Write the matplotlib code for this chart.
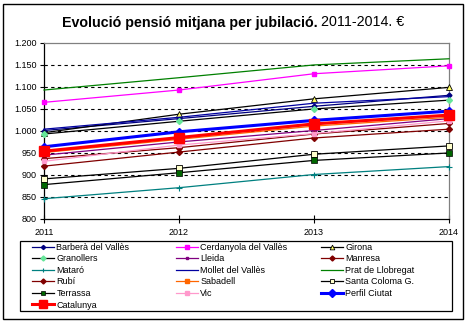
import matplotlib
matplotlib.use("Agg")
import matplotlib.pyplot as plt
from matplotlib.patches import Rectangle
from matplotlib.ticker import FuncFormatter

plt.rcParams['font.family'] = ['Liberation Sans', 'DejaVu Sans']

years = [2011, 2012, 2013, 2014]
year_labels = ["2011", "2012", "2013", "2014"]

barbera = [1000, 1027, 1055, 1080]
cerdanyola = [1064, 1092, 1129, 1147]
girona = [995, 1037, 1072, 1098]
granollers = [992, 1021, 1049, 1069]
lleida = [944, 974, 1000, 1027]
manresa = [919, 951, 983, 1003]
mataro = [845, 870, 900, 918]
mollet = [1003, 1030, 1062, 1077]
prat = [1092, 1120, 1149, 1163]
rubi = [936, 961, 992, 1016]
sabadell = [950, 980, 1010, 1030]
santa_coloma = [890, 914, 946, 965]
terrassa = [877, 904, 932, 949]
vic = [930, 967, 993, 1022]
perfil = [963, 997, 1023, 1044]
catalunya = [953, 984, 1015, 1035]

series = [
    ("Barberà del Vallès", barbera, dict(color="#000080", marker="D", ms=2.5, mfc="#000080", mec="#000080", lw=0.9)),
    ("Cerdanyola del Vallès", cerdanyola, dict(color="#FF00FF", marker="s", ms=3.5, mfc="#FF00FF", mec="#FF00FF", lw=0.9)),
    ("Girona", girona, dict(color="black", marker="^", ms=4, mfc="#FFFF66", mec="black", mew=0.6, lw=0.9)),
    ("Granollers", granollers, dict(color="black", marker="D", ms=3, mfc="#66E699", mec="#66E699", lw=0.9)),
    ("Lleida", lleida, dict(color="#800080", marker="s", ms=2.5, mfc="#800080", mec="#800080", lw=0.9)),
    ("Manresa", manresa, dict(color="#800000", marker="D", ms=3, mfc="#800000", mec="#800000", lw=0.9)),
    ("Mataró", mataro, dict(color="#008080", marker="+", ms=4, mew=0.8, lw=0.9)),
    ("Mollet del Vallès", mollet, dict(color="#0000A0", lw=0.9)),
    ("Prat de Llobregat", prat, dict(color="#008000", lw=0.9)),
    ("Rubí", rubi, dict(color="#800000", marker="D", ms=3, mfc="#800000", mec="#800000", lw=0.9)),
    ("Sabadell", sabadell, dict(color="#FF6600", marker="s", ms=3.5, mfc="#FF6600", mec="#FF6600", lw=0.9)),
    ("Santa Coloma G.", santa_coloma, dict(color="black", marker="s", ms=4, mfc="#FFFFCC", mec="black", mew=0.6, lw=0.9)),
    ("Terrassa", terrassa, dict(color="black", marker="s", ms=4, mfc="#006600", mec="black", mew=0.5, lw=0.9)),
    ("Vic", vic, dict(color="#FF99CC", marker="s", ms=3.5, mfc="#FF99CC", mec="#FF99CC", lw=0.9)),
    ("Perfil Ciutat", perfil, dict(color="#0000FF", marker="D", ms=4.5, mfc="#0000FF", mec="#0000FF", lw=2.2)),
    ("Catalunya", catalunya, dict(color="#FF0000", marker="s", ms=7, mfc="#FF0000", mec="#FF0000", lw=2.2)),
]

fig = plt.figure(figsize=(4.68, 3.25), dpi=100)
fig.patch.set_facecolor("white")

# outer border
fig.patches.append(Rectangle((3/468, 6/325), 460/468, 315/325, transform=fig.transFigure,
                             fill=False, edgecolor="black", lw=1.0))

ax = fig.add_axes([44/468, 1 - 218.5/325, 405/468, 176/325])

ax.set_ylim(800, 1200)
ax.set_xlim(2011, 2014)
for y in range(850, 1200, 50):
    ax.axhline(y, color="black", lw=0.8, ls=(0, (3, 3)), zorder=0)

handles = []
for name, vals, st in series:
    h, = ax.plot(years, vals, label=name, zorder=3, clip_on=False, **st)
    handles.append(h)

ax.set_xticks(years)
ax.set_xticklabels(year_labels)
ax.set_yticks(range(800, 1201, 50))
ax.yaxis.set_major_formatter(FuncFormatter(lambda v, p: f"{int(v):,}".replace(",", ".")))
ax.tick_params(axis="both", labelsize=6.5, length=3, width=0.8, color="black", pad=2)
ax.tick_params(axis="x", direction="inout", length=6, pad=4)
ax.spines["left"].set_color("black")
ax.spines["bottom"].set_color("black")
ax.spines["top"].set_color("#808080")
ax.spines["right"].set_color("#808080")
for s in ax.spines.values():
    s.set_linewidth(0.9)

# title in two parts
fig.text(318/468, 1 - 22.5/325, "Evolució pensió mitjana per jubilació.", ha="right", va="center",
         fontsize=10.3, fontweight="bold")
fig.text(321/468, 1 - 22.5/325, "2011-2014. €", ha="left", va="center", fontsize=10.3)

# legend frame
fig.patches.append(Rectangle((20/468, 1 - 311/325), 432/468, 70/325, transform=fig.transFigure,
                             fill=False, edgecolor="black", lw=0.9))

col_x = [31, 175, 320]
for c in range(3):
    hs = handles[c::3]
    fig.legend(handles=hs, labels=[h.get_label() for h in hs], loc="upper left",
               bbox_to_anchor=(col_x[c]/468, 1 - 242/325), frameon=False, fontsize=6.5,
               handlelength=2.4, handletextpad=0.3, labelspacing=0.28, borderaxespad=0,
               borderpad=0.1, numpoints=1, markerscale=0.85)

fig.savefig("out.png", dpi=100, facecolor="white")
